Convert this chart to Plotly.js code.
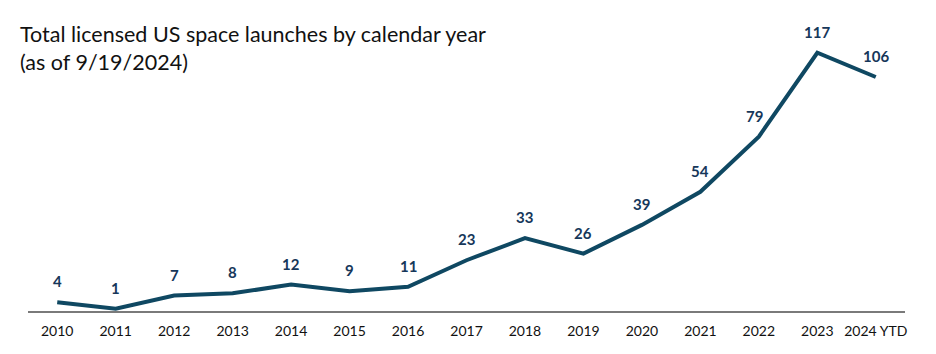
<!DOCTYPE html>
<html>
<head>
<meta charset="utf-8">
<script src="https://cdn.plot.ly/plotly-3.0.1.min.js"></script>
<style>html,body{margin:0;padding:0;background:#fff;}#chart{width:936px;height:354px;}</style>
</head>
<body>
<div id="chart"></div>
<script>
const years = ["2010","2011","2012","2013","2014","2015","2016","2017","2018","2019","2020","2021","2022","2023","2024 YTD"];
const launches = [4, 1, 7, 8, 12, 9, 11, 23, 33, 26, 39, 54, 79, 117, 106];
const titleText = "Total licensed US space launches by calendar year<br>(as of 9/19/2024)";

const lineColor = "#0f4862";
const labelColor = "#16375a";
const fontFam = "Lato, 'Noto Sans', sans-serif";

const trace = {
  x: years,
  y: launches,
  type: "scatter",
  mode: "lines",
  line: {color: lineColor, width: 4},
  hoverinfo: "skip"
};

const annotations = years.map((yr, i) => ({
  x: i, y: launches[i], xref: "x", yref: "y",
  text: String(launches[i]),
  showarrow: false,
  yanchor: "bottom",
  yshift: 10,
  xshift: i === 12 ? -4 : 0,
  font: {family: fontFam, size: 15, color: labelColor, weight: 700}
}));

const layout = {
  width: 936, height: 354,
  margin: {l: 28, r: 31, t: 30, b: 43},
  paper_bgcolor: "#fff", plot_bgcolor: "#fff",
  showlegend: false,
  title: {
    text: titleText,
    xref: "container", yref: "container",
    x: 20/936, xanchor: "left",
    y: 1 - 42/354, yanchor: "top",
    font: {family: fontFam, size: 21.5, color: "#111"}
  },
  xaxis: {
    type: "category",
    range: [-0.5, 14.5],
    showgrid: false, zeroline: false,
    showline: true, linecolor: "#7a7a7a", linewidth: 2,
    ticks: "", ticklen: 0,
    ticklabelstandoff: 6,
    tickfont: {family: fontFam, size: 14, color: "#111"},
    fixedrange: true
  },
  yaxis: {
    range: [0, 127.3],
    showgrid: false, zeroline: false, showline: false,
    showticklabels: false, ticks: "",
    fixedrange: true
  },
  annotations: annotations
};

Plotly.newPlot("chart", [trace], layout, {displayModeBar: false, staticPlot: true});
</script>
</body>
</html>
